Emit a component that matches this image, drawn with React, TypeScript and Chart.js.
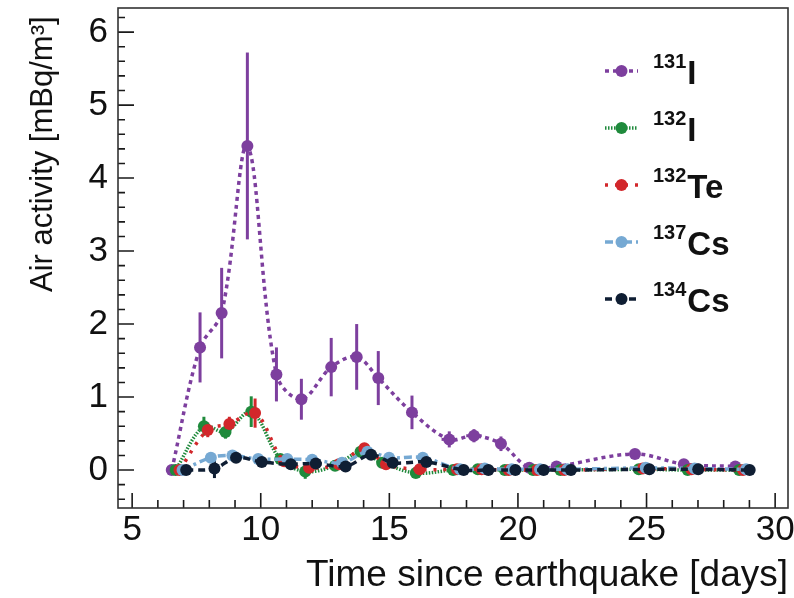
import React, { useEffect, useRef } from "react";
import { Chart, registerables } from "chart.js";

Chart.register(...registerables);

// Sampling days (days since earthquake) for 131I; other isotopes shifted slightly
const days = [6.54, 7.64, 8.48, 9.48, 10.61, 11.58, 12.74, 13.73, 14.57, 15.88, 17.33, 18.29, 19.34, 20.44, 21.5, 24.55, 26.45, 28.45];
const dayShifts = [0, 0.15, 0.3, 0.42, 0.56];

const massNumbers = ["131", "132", "132", "137", "134"];
const elements = ["I", "I", "Te", "Cs", "Cs"];

const i131 = [0, 1.68, 2.15, 4.44, 1.31, 0.97, 1.41, 1.55, 1.26, 0.79, 0.42, 0.47, 0.36, 0.03, 0.05, 0.22, 0.08, 0.05];
const i131Err = [0, 0.48, 0.62, 1.28, 0.37, 0.28, 0.4, 0.45, 0.37, 0.23, 0.11, 0.09, 0.1, 0, 0.02, 0.03, 0.02, 0];
const i131XErr = [0, 0, 0, 0, 0, 0, 0, 0, 0, 0, 0.3, 0.3, 0, 0, 0, 0, 0, 0];

const i132 = [0, 0.6, 0.52, 0.8, 0.15, -0.02, 0.06, 0.25, 0.1, -0.04, 0.0, 0.01, 0, 0, 0, 0.01, 0, 0];
const i132Err = [0, 0.13, 0.09, 0.21, 0.04, 0.1, 0.03, 0.05, 0.03, 0.05, 0, 0, 0, 0, 0, 0, 0, 0];

const te132 = [0, 0.55, 0.63, 0.78, 0.12, 0.03, 0.08, 0.3, 0.08, 0.01, 0.01, 0.01, 0, 0, 0, 0.02, 0.01, 0];
const te132Err = [0, 0.1, 0.1, 0.2, 0.04, 0.03, 0.03, 0.05, 0.03, 0.03, 0, 0, 0, 0, 0, 0, 0, 0];

const cs137 = [0, 0.17, 0.2, 0.15, 0.15, 0.14, 0.1, 0.25, 0.17, 0.17, 0.01, 0.02, 0.01, 0.01, 0.01, 0.03, 0.02, 0.01];
const cs137Err = [0, 0.03, 0.03, 0.03, 0.03, 0.03, 0.03, 0.03, 0.03, 0.03, 0, 0, 0, 0, 0, 0, 0, 0];

const cs134 = [0, 0.02, 0.17, 0.11, 0.08, 0.09, 0.05, 0.21, 0.1, 0.11, 0.0, 0.0, 0.0, 0.0, 0.0, 0.01, 0.01, 0.0];
const cs134Err = [0, 0.13, 0.03, 0.03, 0.03, 0.03, 0.03, 0.03, 0.03, 0.03, 0, 0, 0, 0, 0, 0, 0, 0];

const xTickValues = [5, 10, 15, 20, 25, 30];
const yTickValues = [0, 1, 2, 3, 4, 5, 6];

const xTitle = "Time since earthquake [days]";
const yTitle = "Air activity [mBq/m³]";

const seriesValues = [i131, i132, te132, cs137, cs134];
const seriesErrors = [i131Err, i132Err, te132Err, cs137Err, cs134Err];

const colors = ["#7d3f9e", "#1f8a3c", "#d2272b", "#76a9d3", "#0f1e33"];
const dashes = [[4, 4], [1.5, 1.5], [3, 7], [8, 4, 3, 4], [7, 5]];

const FONT = "'Liberation Sans', Arial, Helvetica, sans-serif";

const framePlugin = {
  id: "rootFrame",
  beforeDatasetsDraw(chart: any) {
    const { ctx, chartArea: a, scales } = chart;
    const x = scales.x;
    const y = scales.y;
    ctx.save();
    ctx.strokeStyle = "#1a1a1a";
    ctx.lineWidth = 1.6;
    ctx.beginPath();
    for (let v = Math.ceil(x.min); v <= x.max; v += 1) {
      const px = x.getPixelForValue(v);
      const len = v % 5 === 0 ? 15 : 8;
      ctx.moveTo(px, a.bottom);
      ctx.lineTo(px, a.bottom - len);
    }
    for (let k = Math.ceil(y.min * 5); k <= Math.floor(y.max * 5); k++) {
      const py = y.getPixelForValue(k / 5);
      const len = k % 5 === 0 ? 16 : 7;
      ctx.moveTo(a.left, py);
      ctx.lineTo(a.left + len, py);
    }
    ctx.stroke();

    // error bars
    chart.data.datasets.forEach((ds: any) => {
      const errs: number[] = ds.errs;
      const xerrs: number[] = ds.xerrs || [];
      ctx.strokeStyle = ds.borderColor;
      ctx.lineWidth = 3;
      ctx.setLineDash([]);
      ds.data.forEach((p: any, j: number) => {
        const px = x.getPixelForValue(p.x);
        if (errs[j] > 0) {
          ctx.beginPath();
          ctx.moveTo(px, y.getPixelForValue(p.y - errs[j]));
          ctx.lineTo(px, y.getPixelForValue(p.y + errs[j]));
          ctx.stroke();
        }
        if (xerrs[j] > 0) {
          const py = y.getPixelForValue(p.y);
          ctx.beginPath();
          ctx.moveTo(x.getPixelForValue(p.x - xerrs[j]), py);
          ctx.lineTo(x.getPixelForValue(p.x + xerrs[j]), py);
          ctx.stroke();
        }
      });
    });
    ctx.restore();
  },
  afterDraw(chart: any) {
    const { ctx, chartArea: a } = chart;
    ctx.save();
    ctx.strokeStyle = "#333";
    ctx.lineWidth = 1.6;
    ctx.setLineDash([]);
    ctx.strokeRect(a.left, a.top, a.right - a.left, a.bottom - a.top);

    // y-axis title
    ctx.save();
    ctx.translate(52, 292);
    ctx.rotate(-Math.PI / 2);
    ctx.fillStyle = "#111";
    ctx.font = `31px ${FONT}`;
    ctx.textAlign = "left";
    ctx.textBaseline = "alphabetic";
    ctx.fillText(yTitle, 0, 0);
    ctx.restore();

    // legend
    const x0 = 605;
    const x1 = 638;
    const rowY = [71, 128, 185, 242, 299];
    rowY.forEach((ry, i) => {
      ctx.strokeStyle = colors[i];
      ctx.lineWidth = 3.5;
      ctx.setLineDash(dashes[i]);
      ctx.beginPath();
      ctx.moveTo(x0, ry);
      ctx.lineTo(x1, ry);
      ctx.stroke();
      ctx.setLineDash([]);
      ctx.fillStyle = colors[i];
      ctx.beginPath();
      ctx.arc((x0 + x1) / 2, ry, 6, 0, Math.PI * 2);
      ctx.fill();
      ctx.fillStyle = "#111";
      ctx.textBaseline = "alphabetic";
      ctx.textAlign = "left";
      ctx.font = `bold 20px ${FONT}`;
      ctx.fillText(massNumbers[i], 653, ry - 3);
      const w = ctx.measureText(massNumbers[i]).width;
      ctx.font = `bold 33px ${FONT}`;
      ctx.fillText(elements[i], 653 + w + 1, ry + 13);
    });
    ctx.restore();
  },
};

export default function App() {
  const ref = useRef<HTMLCanvasElement>(null);
  useEffect(() => {
    if (!ref.current) return;
    const datasets = seriesValues.map((vals, i) => ({
      label: massNumbers[i] + elements[i],
      data: vals.map((v, j) => ({ x: days[j] + dayShifts[i], y: v })),
      errs: seriesErrors[i],
      xerrs: i === 0 ? i131XErr : [],
      borderColor: colors[i],
      backgroundColor: colors[i],
      borderWidth: 3.5,
      borderDash: dashes[i],
      pointRadius: 6,
      pointBorderWidth: 0,
      pointBackgroundColor: colors[i],
      tension: 0.35,
      fill: false,
      order: 5 - i,
    }));
    const chart = new Chart(ref.current, {
      type: "line",
      data: { datasets } as any,
      plugins: [framePlugin],
      options: {
        animation: false,
        responsive: false,
        devicePixelRatio: 1,
        layout: { padding: { top: 8, right: 4, left: 0, bottom: 0 } },
        plugins: { legend: { display: false }, tooltip: { enabled: false } },
        scales: {
          x: {
            type: "linear",
            min: 4.45,
            max: 30.5,
            grid: { display: false, drawTicks: false },
            border: { display: false },
            afterBuildTicks: (s: any) => {
              s.ticks = xTickValues.map((v) => ({ value: v }));
            },
            afterFit: (s: any) => {
              s.height = 90;
              s.paddingLeft = 0;
              s.paddingRight = 0;
            },
            ticks: {
              font: { family: FONT, size: 35 },
              color: "#111",
              padding: 1,
              maxRotation: 0,
              autoSkip: false,
            },
            title: {
              display: true,
              text: xTitle,
              align: "end",
              font: { family: FONT, size: 37 },
              color: "#111",
              padding: { top: 0, bottom: 0 },
            },
          },
          y: {
            type: "linear",
            min: -0.52,
            max: 6.33,
            grid: { display: false, drawTicks: false },
            border: { display: false },
            afterBuildTicks: (s: any) => {
              s.ticks = yTickValues.map((v) => ({ value: v }));
            },
            afterFit: (s: any) => {
              s.width = 118;
              s.paddingTop = 0;
              s.paddingBottom = 0;
            },
            ticks: {
              font: { family: FONT, size: 35 },
              color: "#111",
              padding: 10,
              autoSkip: false,
            },
            title: { display: false },
          },
        },
      } as any,
    });
    return () => chart.destroy();
  }, []);
  return (
    <div style={{ position: "fixed", left: 0, top: 0, width: 794, height: 598, background: "#fff" }}>
      <canvas ref={ref} width={794} height={598} style={{ width: 794, height: 598 }} />
    </div>
  );
}
